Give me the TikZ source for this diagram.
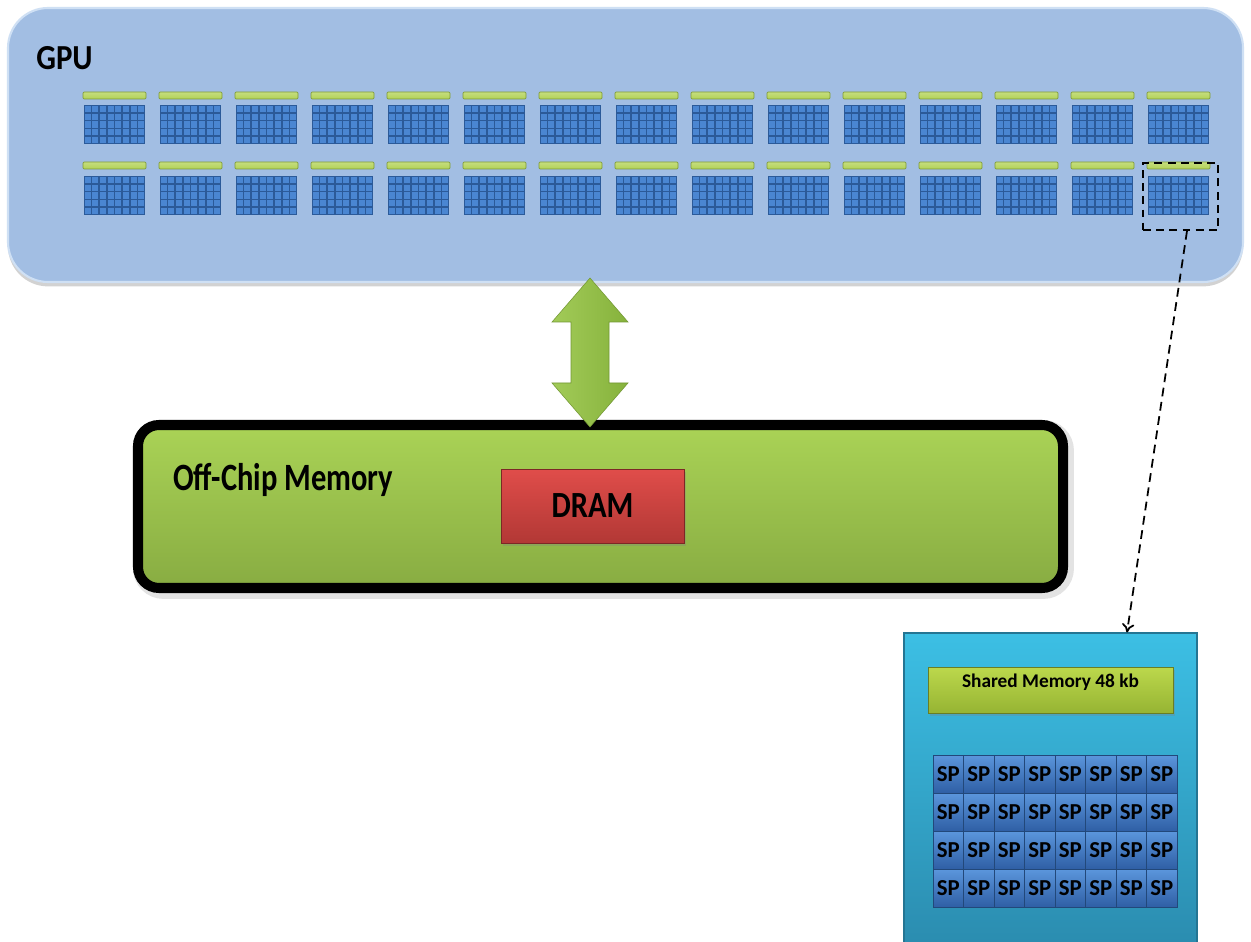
\documentclass[tikz,border=0pt]{standalone}
\usepackage{fontspec}
\setmainfont{Carlito}
\usetikzlibrary{fit,calc,arrows.meta,shadows}

\definecolor{gpufill}{HTML}{A2BEE3}
\definecolor{gpurim}{HTML}{CFE0F4}
\definecolor{barlime}{HTML}{B2D255}
\definecolor{bardark}{HTML}{7F9B38}
\definecolor{coreblue}{HTML}{4A86D2}
\definecolor{coreline}{HTML}{2B5A99}
\definecolor{memtop}{HTML}{AAD356}
\definecolor{membot}{HTML}{88AC42}
\definecolor{dramtop}{HTML}{E04D4A}
\definecolor{drambot}{HTML}{B23835}
\definecolor{smtop}{HTML}{3CBFE4}
\definecolor{smbot}{HTML}{2A8AAD}
\definecolor{shtop}{HTML}{BCD84C}
\definecolor{shbot}{HTML}{96B433}
\definecolor{sptop}{HTML}{5B96DC}
\definecolor{spbot}{HTML}{2F5FA5}
\definecolor{arrowlight}{HTML}{A2CB58}
\definecolor{arrowdark}{HTML}{86B23C}

\tikzset{
  gpubox/.style={fill=gpufill, draw=gpurim, line width=1.2pt, rounded corners=0.8cm,
    inner sep=0pt, drop shadow={shadow xshift=0pt, shadow yshift=-2.5pt, opacity=0.35}},
  smbar/.style={top color=barlime!75!white, bottom color=barlime, draw=bardark,
    line width=0.4pt, rounded corners=0.6pt},
  coretile/.style={fill=coreline, inner sep=0pt, draw=none},
  corecell/.style={fill=coreblue},
  membox/.style={top color=memtop, bottom color=membot, draw=black, line width=5.7pt,
    rounded corners=0.42cm, inner sep=0pt},
  dramblock/.style={top color=dramtop, bottom color=drambot, draw=drambot!70!black,
    line width=0.5pt, inner sep=0pt},
  zoombox/.style={draw=black, line width=1.1pt, dash pattern=on 4.5pt off 3pt, inner sep=0pt},
  smdetail/.style={top color=smtop, bottom color=smbot, draw=smbot!85!black,
    line width=0.6pt, inner sep=0pt},
  sharedbar/.style={top color=shtop, bottom color=shbot, draw=shbot!70!black,
    line width=0.5pt, inner sep=0pt},
  spcell/.style={top color=sptop, bottom color=spbot, draw=coreline!80!black,
    line width=0.5pt, inner sep=0pt},
  biglabel/.style={inner sep=0pt, anchor=base west},
}

\begin{document}
\begin{tikzpicture}[x=0.02cm, y=-0.02cm]
  \clip (0,0) rectangle (1251,942);
  \fill[white] (0,0) rectangle (1251,942);

  % ---------- GPU chip ----------
  \node[gpubox, fit={(8,8) (1243,282)}] (gpu) {};
  \node[biglabel] (gpulabel) at (36,70)
    {\bfseries\fontsize{20}{22}\selectfont\scalebox{0.88}[1]{GPU}};

  % streaming multiprocessors: 2 rows of 15
  \foreach \c in {0,...,14}{
    \pgfmathsetmacro\xa{83+76*\c}
    \foreach \r/\yb/\yg in {1/92/105, 2/162/176}{
      \draw[smbar] (\xa,\yb) rectangle ++(63,7);
      \node[coretile, fit={(\xa+1,\yg) (\xa+62,\yg+39)}] (core-\r-\c) {};
      \foreach \i in {0,...,7}{
        \foreach \j in {0,...,4}{
          \fill[corecell] (\xa+1+\i*7.625+0.8, \yg+\j*7.8+0.8) rectangle ++(6.0,6.2);
        }
      }
    }
  }

  % highlighted multiprocessor
  \node[zoombox, fit={(1143,163) (1218,230)}] (zoom) {};

  % ---------- off-chip memory ----------
  \draw[gray!22, line width=9pt, rounded corners=0.45cm]
    (141,428) rectangle (1066,591);
  \node[membox, fit={(138,425) (1063,588)}] (mem) {};
  \node[biglabel] (memlabel) at (173,490)
    {\bfseries\fontsize{22}{24}\selectfont\scalebox{0.79}[1]{Off-Chip Memory}};
  \node[dramblock, fit={(501,469) (684,543)},
    drop shadow={shadow xshift=1pt, shadow yshift=-1.5pt, opacity=0.3}] (dram) {};
  \node[font=\bfseries\fontsize{21}{24}\selectfont, inner sep=0pt] (dramlabel)
    at (dram.center) {\scalebox{0.83}[1]{DRAM}};

  % ---------- bus between GPU and memory ----------
  \coordinate (bus-top) at (590,278);
  \coordinate (bus-bot) at (590,427);
  \path[left color=arrowlight, right color=arrowdark, draw=arrowdark!85!black, line width=0.3pt]
    (bus-top) -- ($(bus-top)+(38,44)$) -- ($(bus-top)+(19,44)$)
    -- ($(bus-bot)+(19,-44)$) -- ($(bus-bot)+(38,-44)$) -- (bus-bot)
    -- ($(bus-bot)+(-38,-44)$) -- ($(bus-bot)+(-19,-44)$)
    -- ($(bus-top)+(-19,44)$) -- ($(bus-top)+(-38,44)$) -- cycle;

  % ---------- multiprocessor detail ----------
  \node[smdetail, fit={(904,633) (1197,960)}] (sm) {};
  \node[sharedbar, fit={(928,667) (1173,713)},
    drop shadow={shadow xshift=1pt, shadow yshift=-1.5pt, opacity=0.3}] (shared) {};
  \node[font=\bfseries\fontsize{11}{12}\selectfont, inner sep=0pt, anchor=north]
    (sharedlabel) at ([yshift=-4pt]shared.north) {Shared Memory 48 kb};

  \foreach \i in {0,...,7}{
    \foreach \j in {0,...,3}{
      \node[spcell, fit={(933+\i*30.5, 755+\j*38) (933+\i*30.5+30.5, 755+\j*38+38)}]
        (sp-\j-\i) {};
      \node[font=\bfseries\fontsize{13}{14}\selectfont, inner sep=0pt] at (sp-\j-\i.center) {SP};
    }
  }

  % ---------- zoom connector ----------
  \draw[line width=1pt, dash pattern=on 5pt off 3.2pt, -{To[length=5pt, width=7pt]}]
    ([xshift=0.13cm]zoom.south) -- ([xshift=1.53cm]sm.north);
\end{tikzpicture}
\end{document}
